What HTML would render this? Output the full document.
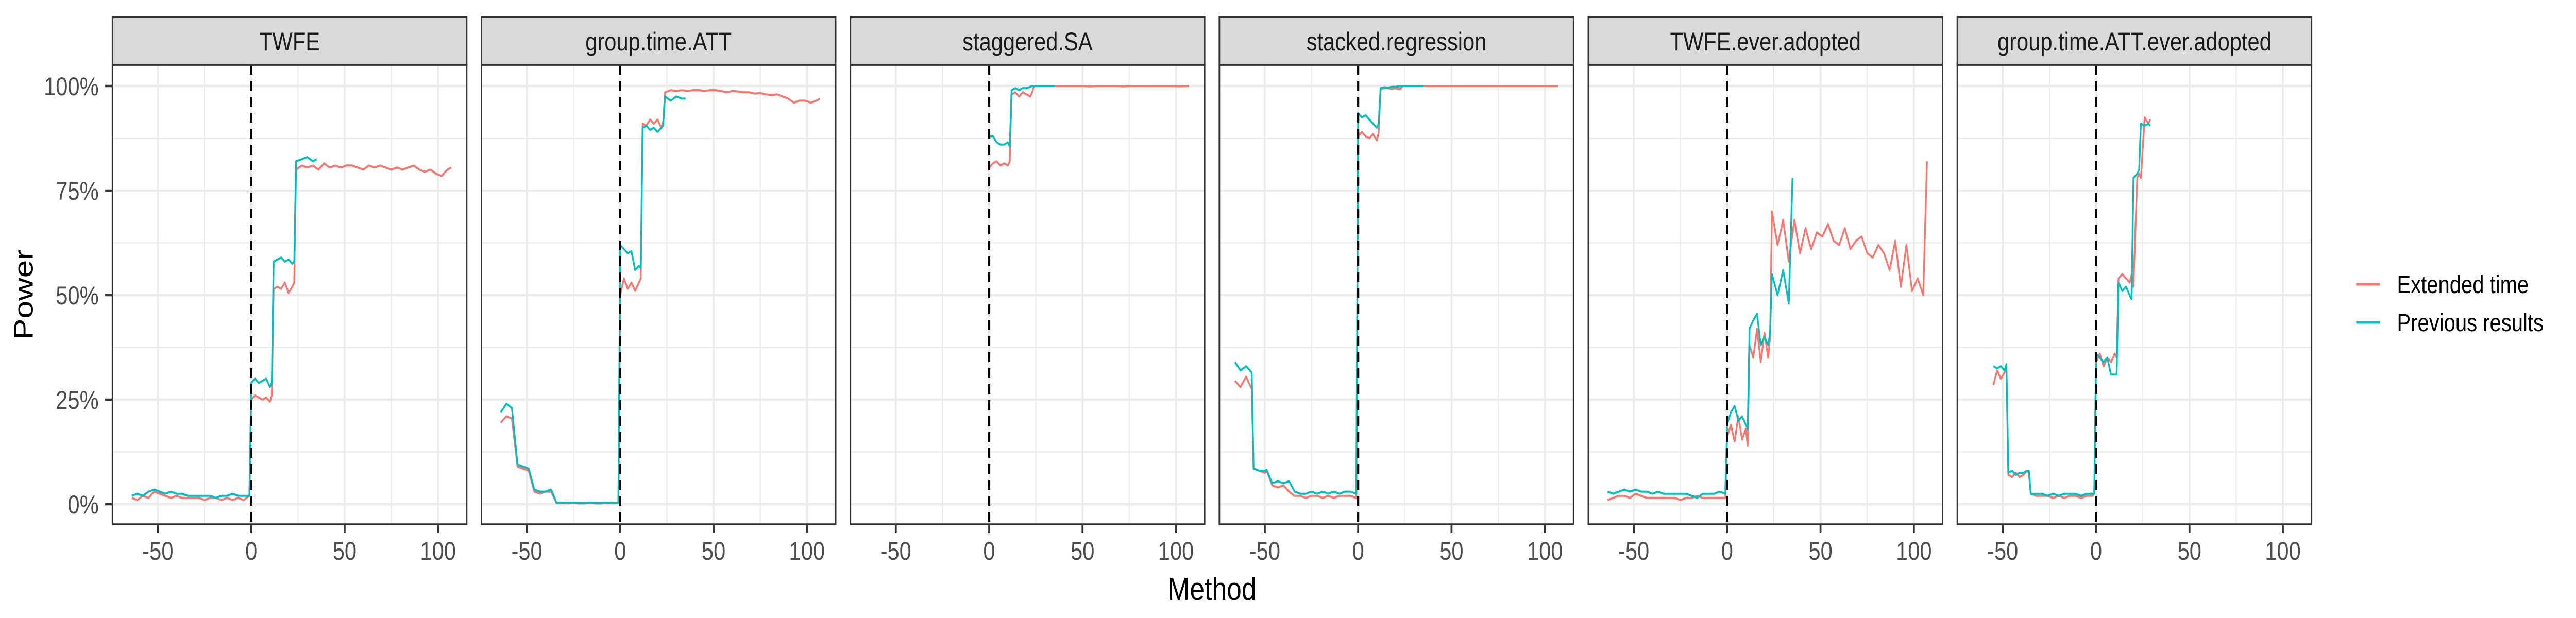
<!DOCTYPE html>
<html><head><meta charset="utf-8"><style>
html,body{margin:0;padding:0;background:#fff;width:100%;height:100%;overflow:hidden;}
svg{display:block;position:absolute;left:0;top:0;width:100vw;height:100vh;font-family:"Liberation Sans",Arial,sans-serif;}
</style></head><body>
<svg id="chart" viewBox="0 0 6000 1200" preserveAspectRatio="none" xmlns="http://www.w3.org/2000/svg" overflow="hidden">
<rect x="0" y="0" width="6000" height="1200" fill="#fff"/>
<text x="0" y="0" transform="translate(76,572) rotate(-90)" text-anchor="middle" font-size="62" fill="#000">Power</text>
<text x="2823" y="1165" text-anchor="middle" font-size="62" fill="#000">Method</text>
<g>
<line x1="5488" y1="552" x2="5543" y2="552" stroke="#F8766D" stroke-width="5"/>
<text x="5583" y="569" font-size="48" fill="#000">Extended time</text>
<line x1="5488" y1="626" x2="5543" y2="626" stroke="#00BFC4" stroke-width="5"/>
<text x="5583" y="643" font-size="48" fill="#000">Previous results</text>
</g>
</svg>
<script>
const PANEL_NAMES = ["TWFE","group.time.ATT","staggered.SA","stacked.regression","TWFE.ever.adopted","group.time.ATT.ever.adopted"];
const X_TICKS = [-50,0,50,100];
const X_MINOR = [-25,25,75];
const Y_TICKS = [0,25,50,75,100];
const Y_TICK_LABELS = ["0%","25%","50%","75%","100%"];
const Y_MINOR = [12.5,37.5,62.5,87.5];

const X_FULL = [-64,-61,-58,-55,-52,-49,-46,-43,-40,-37,-34,-31,-28,-25,-22,-19,-16,-13,-10,-7,-4,-1,0,2,4,6,8,10,11,12,14,16,18,20,22,23,24,27,30,33,36,39,42,45,48,51,54,57,60,63,66,69,72,75,78,81,84,87,90,93,96,99,102,105,107];
const X_PREV = [-64,-61,-58,-55,-52,-49,-46,-43,-40,-37,-34,-31,-28,-25,-22,-19,-16,-13,-10,-7,-4,-1,0,2,4,6,8,10,11,12,14,16,18,20,22,23,24,27,30,33,35];
const X_POST = [0,2,4,6,8,10,11,12,14,16,18,20,22,23,24,27,30,33,36,39,42,45,48,51,54,57,60,63,66,69,72,75,78,81,84,87,90,93,96,99,102,105,107];
const X_POST_PREV = [0,2,4,6,8,10,11,12,14,16,18,20,22,23,24,27,30,33,35];
const X4_PRE = [-66,-63,-60,-57,-56,-53,-50,-49,-46,-43,-40,-37,-34,-31,-28,-25,-22,-19,-16,-13,-10,-7,-4,-1];
const X6 = [-55,-53,-51,-49,-48,-47,-45,-43,-41,-39,-37,-36,-35,-32,-29,-26,-23,-20,-17,-14,-11,-8,-5,-2,-1,0,2,4,6,8,10,11,12,14,16,18,19,20,22,23,24,26,28,29];

const P1_EXT = [1.5,1,2,1.5,3,2.5,2,1.5,2,1.5,1.5,1.5,1.5,1,1.5,1.5,1,1.5,1,1.5,1,2, 25,26,25.5,25,25.5,24.5,26, 51.5,52,51.5,53,50.5,52,53, 80,81,80.5,81,80,81.5,80.5,81,80.5,81,81,80.5,80,81,80.5,81,80.5,80,80.5,80,80.5,81,80,79.5,80,79,78.5,80, 80.5];
const P1_PREV = [2,2.5,2,3,3.5,3,2.5,3,2.5,2.5,2,2,2,2,2,1.5,2,2,2.5,2,2,2, 29,30,29,29.5,30,28,29, 58,58.5,59,58,58.5,57.5,58, 82,82.5,83,82,82.5];
const P2_EXT = [19.5,21,20.5,9,8.5,8,3,2.5,3,3,0.2,0.3,0.2,0.3,0.2,0.2,0.3,0.2,0.2,0.3,0.2,0.3, 50,54,51.5,53,51,53,54, 91,90.5,92,91,92,90,91.5, 98.5,99,98.8,99,98.8,99,99,98.8,99,99,98.8,98.5,98.8,98.7,98.5,98.5,98.2,98.3,98,97.8,98,97.5,97,96,96.5,96.5,96,96.5, 97];
const P2_PREV = [22,24,23,9.5,9,8.5,3.5,3,3,3.5,0.3,0.4,0.3,0.4,0.3,0.3,0.4,0.3,0.3,0.4,0.3,0.3, 62,61,60,60.5,56,57,56.5, 90,90.5,89.5,90,89,90,90.5, 97.5,96.5,97.5,97,97];
const P3_EXT = [80.5,81.5,82,81,81.5,81,82, 98,98.5,97.5,98.5,98,97.5,98.5, 100,100,100,100,100,100,100,100,100,100,99.9,100,100,100,100,100,99.9,100,100,100,100,100,100,100,100,100,99.9,100, 100];
const P3_PREV = [88,88,86.5,86,86,86.5,85.5, 99,99.5,99,99.5,99.5,99.8,100, 100,100,100,100,100];
const P4_EXT = [29.5,28,30.5,27.5,8.5,8,7.5,8,4.5,4,4.5,3,2,2,1.5,2,2,1.5,2,1.5,2,2,2,1.5, 88,89,88,87.5,88.5,87,89, 99.3,99.5,99.5,99.3,99.5,99.2,99.5, 100,100,100,100,100,100,100,100,100,100,100,100,100,100,100,100,100,100,100,100,100,100,100,100,100,100,100,100, 100];
const P4_PREV = [34,32,33,31.5,8.5,8,8,8.2,5,5.5,5,5.5,3,2.5,2.5,3,2.5,3,2.5,3,2.5,3,3,2.5, 93.5,92.5,93,92,91,90,91, 99.5,99.7,99.6,99.8,99.8,99.9,100, 100,100,100,100,100];
const P5_EXT = [1,1.5,2,2,1.5,2.5,2,1.5,1.5,1.5,1.5,1.5,1.5,1,1.5,1.5,2,1.5,1.5,1.5,1.5,1.5, 16,19,15,21,15.5,18,14, 38,35,42,34,41,35,40, 70,62,68,58,68,60,66,61,65,64,67,63,62,66,61,63,64,60,59,62,60,56,63,52,62,51,54,50, 82];
const P5_PREV = [3,2.5,3,3.5,3,3.5,3,3,2.5,3,2.5,2.5,2.5,2.5,2.5,2,1.5,2.5,2.5,2.5,3,2.5, 19,22,23.5,20,21,19,18, 42,44,45.5,38,40,38,41, 55,50,56,48,78];
const P6_EXT = [28.5,32,30,31.5,32,7,6.5,7.5,6.5,7,8,7.5,2.5,2,2,2,1.5,2,1.5,2,2,1.5,2,2,2.5, 34,36,33,35,34,36,35, 54,55,54,53,55,52, 78,79,78, 92.5,91,92,91.5];
const P6_PREV = [33,32.5,33,32,33.5,7.5,8,7,7.5,7.5,8,8,2.5,2.5,2.5,2,2.5,2,2.5,2.5,2.5,2,2.5,2.5,2.5, 36,35,34,35,31,31,31, 53,51,52,50,49, 78,79,80, 91,90.5,91,90.5];

const SERIES = [
  [[X_FULL,P1_EXT],[X_PREV,P1_PREV]],
  [[X_FULL,P2_EXT],[X_PREV,P2_PREV]],
  [[X_POST,P3_EXT],[X_POST_PREV,P3_PREV]],
  [[X4_PRE.concat(X_POST),P4_EXT],[X4_PRE.concat(X_POST_PREV),P4_PREV]],
  [[X_FULL,P5_EXT],[X_PREV,P5_PREV]],
  [[X6,P6_EXT],[X6,P6_PREV]]
];
const COLORS = ["#F8766D","#00BFC4"];
const SERIES_NAMES = ["extended-time","previous-results"];

const NS = "http://www.w3.org/2000/svg";
const svg = document.getElementById("chart");
const P_LEFT0 = 262, P_STEP = 859.4, P_W = 825, STRIP_TOP = 33, P_TOP = 126, P_BOT = 1018;
const X_MIN = -74.3, X_PX = 4.35;
function yS(v){ return 979 - v * 8.12; }
function mk(tag, attrs, parent){ const e = document.createElementNS(NS, tag); for (const k in attrs) e.setAttribute(k, attrs[k]); (parent||svg).appendChild(e); return e; }

PANEL_NAMES.forEach((name, i) => {
  const L = P_LEFT0 + i * P_STEP;
  const xS = x => L + (x - X_MIN) * X_PX;
  const g = mk("g", {});
  
  
  mk("rect", {x:L, y:P_TOP, width:P_W, height:P_BOT-P_TOP, fill:"#fff"}, g);
  Y_MINOR.forEach(v => { const l = mk("line", {x1:L, x2:L+P_W, y1:yS(v), y2:yS(v), stroke:"#EBEBEB", "stroke-width":2.5}, g);
      });
  X_MINOR.forEach(v => { const l = mk("line", {x1:xS(v), x2:xS(v), y1:P_TOP, y2:P_BOT, stroke:"#EBEBEB", "stroke-width":2.5}, g);
      });
  Y_TICKS.forEach(v => { const l = mk("line", {x1:L, x2:L+P_W, y1:yS(v), y2:yS(v), stroke:"#EBEBEB", "stroke-width":4.5}, g);
      });
  X_TICKS.forEach(v => { const l = mk("line", {x1:xS(v), x2:xS(v), y1:P_TOP, y2:P_BOT, stroke:"#EBEBEB", "stroke-width":4.5}, g);
      });
  SERIES[i].forEach((s, k) => {
    const xs = s[0], ys = s[1];
    let d = "";
    for (let j = 0; j < ys.length && j < xs.length; j++) d += (j ? "L" : "M") + xS(xs[j]).toFixed(1) + "," + yS(ys[j]).toFixed(1);
    const p = mk("path", {d:d, fill:"none", stroke:COLORS[k], "stroke-width":4, "stroke-linejoin":"round"}, g);
    
    
  });
  const dl = mk("line", {x1:xS(0), x2:xS(0), y1:P_TOP, y2:P_BOT, stroke:"#000", "stroke-width":5, "stroke-dasharray":"19 12"}, g);
  
  
  const b = mk("rect", {x:L, y:P_TOP, width:P_W, height:P_BOT-P_TOP, fill:"none", stroke:"#333", "stroke-width":3.5}, g);
  
  
  const st = mk("rect", {x:L, y:STRIP_TOP, width:P_W, height:P_TOP-STRIP_TOP, fill:"#D9D9D9", stroke:"#333", "stroke-width":3.5}, g);
  
  
  const tt = mk("text", {x:L+P_W/2, y:98, "text-anchor":"middle", "font-size":50, fill:"#1A1A1A"}, g);
  tt.textContent = name;
  
  
  X_TICKS.forEach(v => {
    const t = mk("line", {x1:xS(v), x2:xS(v), y1:P_BOT, y2:P_BOT+17, stroke:"#333", "stroke-width":4.5}, g);
     
    const lb = mk("text", {x:xS(v), y:1087, "text-anchor":"middle", "font-size":50, fill:"#4D4D4D"}, g);
    lb.textContent = String(v);
     
  });
  if (i === 0) {
    Y_TICKS.forEach((v, j) => {
      const t = mk("line", {x1:L-17, x2:L, y1:yS(v), y2:yS(v), stroke:"#333", "stroke-width":4.5}, g);
       
      const lb = mk("text", {x:230, y:yS(v)+18, "text-anchor":"end", "font-size":50, fill:"#4D4D4D"}, g);
      lb.textContent = Y_TICK_LABELS[j];
       
    });
  }
});
</script>
</body></html>
